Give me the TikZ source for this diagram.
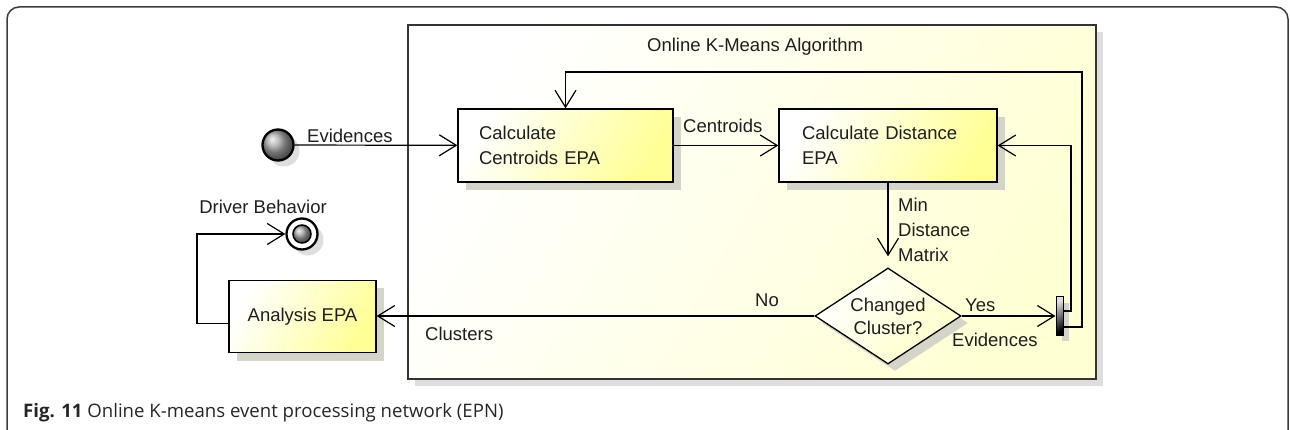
\documentclass[tikz,border=0pt]{standalone}
\usepackage{fontspec}
\setmainfont{Liberation Sans}
\newfontfamily\capfont{Open Sans}
\usetikzlibrary{arrows.meta,shapes.geometric,shadows}
\definecolor{boxyellow}{RGB}{255,255,150}
\definecolor{contyellow}{RGB}{255,255,212}
\definecolor{shadowgray}{RGB}{212,212,200}
\definecolor{shadowlight}{RGB}{222,222,222}
\definecolor{framecol}{RGB}{60,60,60}
\definecolor{txt}{RGB}{30,30,30}
\begin{document}
\begin{tikzpicture}[x=1pt,y=-1pt,
  every node/.style={font=\fontsize{18.5}{25}\selectfont, text=txt},
  lbl/.style={anchor=base west, inner sep=0pt},
  epa/.style={draw=black, line width=1.3pt, top color=white, bottom color=boxyellow, shading angle=60,
    general shadow={fill=shadowgray, shadow xshift=8pt, shadow yshift=-8pt},
    minimum height=73pt, inner ysep=0pt},
  container/.style={draw=black!80, line width=1.3pt, top color=white, bottom color=contyellow, shading angle=60,
    general shadow={fill=shadowlight, shadow xshift=7pt, shadow yshift=-7pt},
    minimum width=688pt, minimum height=354pt, inner sep=0pt},
  decision/.style={diamond, aspect=1.52, draw=black, line width=1.3pt, top color=white, bottom color=contyellow!80!boxyellow, shading angle=45,
    general shadow={fill=shadowgray, shadow xshift=7pt, shadow yshift=-7pt},
    minimum width=146pt, minimum height=96pt, inner sep=0pt, align=center, font=\fontsize{18.5}{23}\selectfont},
  arr/.style={draw=black, line width=1.2pt, -{Straight Barb[length=17pt,width=21pt,line width=1.2pt]}}
]
\useasboundingbox (0,0) rectangle (1290,430);
% outer frame
\draw[framecol, line width=1.5pt, rounded corners=12pt] (7,430) -- (7,7) -- (1288,7) -- (1288,430);

% container
\node[container] (alg) at (752,202) {};
\node[lbl] (algt) at (647,52) {Online K-Means Algorithm};

% EPAs
\node[epa, text width=173pt, inner xsep=21pt, align=left] (cent) at (565.5,145.5) {Calculate\\Centroids EPA};
\node[epa, text width=172pt, inner xsep=23pt, align=left] (dist) at (888,145.5) {Calculate Distance\\EPA};
\node[epa, minimum width=147pt, minimum height=72pt, inner xsep=0pt, align=center] (anal) at (302.5,316.5) {Analysis EPA};

% decision
\node[decision] (dia) at (888,316) {Changed\\Cluster?};

% bar
\node[draw=black, line width=1pt, minimum width=7pt, minimum height=38pt, inner sep=0pt,
  left color=gray!25, right color=black, shading angle=30,
  general shadow={fill=shadowgray, shadow xshift=6pt, shadow yshift=-6pt}] (bar) at (1059.5,316) {};

% start and end circles
\node[circle, draw=black, line width=2.3pt, minimum size=31pt, inner sep=0pt, ball color=gray!70,
  general shadow={fill=shadowlight, shadow xshift=6pt, shadow yshift=-6pt}] (start) at (278,145) {};
\node[circle, draw=black, line width=2.3pt, minimum size=31pt, inner sep=0pt, fill=white,
  general shadow={fill=shadowlight, shadow xshift=6pt, shadow yshift=-6pt}] (endc) at (302,234) {};
\node[circle, draw=black, line width=1.5pt, minimum size=18pt, inner sep=0pt, ball color=gray!70] (endi) at (endc) {};

% connector corner points
\coordinate (c1) at (1071,145.5);
\coordinate (c2) at (1082,72);
\coordinate (c3) at (565.5,72);
\coordinate (c4) at (197,234);

% connectors
\draw[arr] (start) -- (cent);
\draw[arr] (cent) -- (dist);
\draw[arr, shorten >=11pt] (dist) -- (dia);
\draw[arr] (dia) -- (bar);
\draw[arr] ([yshift=5pt]bar.east) -| (c1) -- (dist);
\draw[arr] ([yshift=-11pt]bar.east) -| (c2) -- (c3) -- (cent);
\draw[arr] (dia.west) -- (dia.west -| anal.east);
\draw[arr] ([yshift=-7pt]anal.west) -| (c4) -- (endc);

% labels
\node[lbl] (l1) at (307,143) {Evidences};
\node[lbl] (l2) at (683,133) {Centroids};
\node[lbl] (l3) at (898,212) {Min};
\node[lbl] (l4) at (898,237) {Distance};
\node[lbl] (l5) at (898,262) {Matrix};
\node[lbl] (l6) at (965,312) {Yes};
\node[lbl] (l7) at (952,346) {Evidences};
\node[lbl] (l8) at (755,306) {No};
\node[lbl] (l9) at (425,340) {Clusters};
\node[anchor=base, inner sep=0pt] (l10) at (263,214) {Driver Behavior};

% caption
\node[anchor=base west, inner sep=0pt, font=\capfont\fontsize{18.6}{22}\selectfont, text=black!85] (cap) at (23,417)
  {\textbf{Fig. 11} Online K-means event processing network (EPN)};
\end{tikzpicture}
\end{document}
